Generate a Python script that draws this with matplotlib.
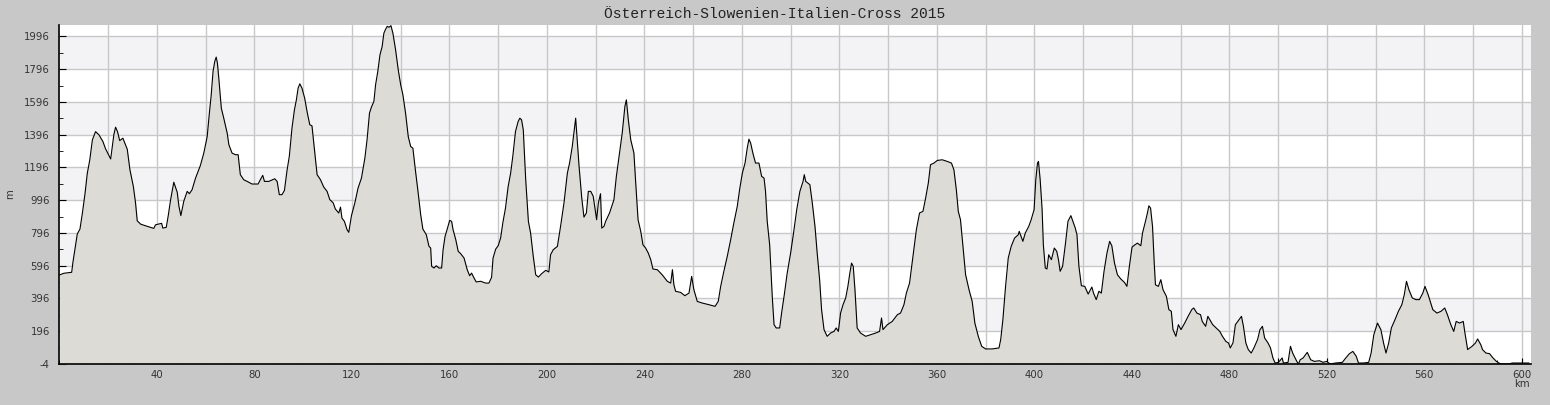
import numpy as np
import matplotlib
matplotlib.use("Agg")
import matplotlib.pyplot as plt
from matplotlib.ticker import MultipleLocator, FixedLocator

plt.rcParams["axes.unicode_minus"] = False

# distance (km) and elevation (m)
km_a = [0, 1.8, 5.0, 5.5, 7.3, 8.4, 9.4, 10.5, 11.4, 12.4, 13.5, 14.8, 16.2, 17.8, 18.9,
        21.0, 22.3, 23.0, 23.8, 24.7, 26.0, 27.8, 28.9, 30.3, 31.2, 31.9, 33.3, 35.3, 38.7,
        39.4, 41.9, 42.4, 43.8, 44.6, 45.6, 46.9, 48.3, 49.0, 49.8, 51.0, 52.4, 53.3, 54.4,
        55.8, 57.8, 59.2, 60.6, 61.5, 62.2, 63.0, 63.7, 64.3, 64.8, 65.3, 66.4, 67.4, 68.8,
        69.5, 70.8, 72.2, 73.3, 74.2, 75.6, 77.0, 79.0, 81.5, 82.4, 83.4, 84.1, 85.9, 88.3,
        89.3, 90.2, 91.3, 92.3, 93.4, 94.3, 95.4, 96.4, 97.2, 97.9, 98.6, 99.5, 100.6, 101.7,
        102.7, 103.6, 104.7, 105.7, 107.1, 108.4, 109.8, 110.9, 112.3, 113.2, 114.6, 115.3,
        115.9, 116.9, 118.0, 118.7, 119.8, 121.2, 122.5, 123.9, 125.3, 126.2, 127.2, 128.0,
        129.0, 129.7, 130.6, 131.5, 132.4, 133.1, 133.8, 134.5, 135.2, 136.0, 136.8, 137.9,
        139.0, 140.0, 140.9, 142.0, 143.1, 144.1, 145.0, 146.1, 147.1, 148.2, 149.1, 150.5,
        151.6, 152.3, 152.7, 153.7, 154.6, 155.7, 156.8, 157.4, 158.2, 159.1, 160.1, 160.9,
        161.5, 162.6, 163.6, 164.6, 166.0, 167.3, 168.3, 169.1, 170.1, 171.0, 172.8, 174.9,
        176.2, 177.3, 177.9, 179.0, 180.0, 181.0, 181.9, 183.0, 184.1, 185.1, 186.0, 187.1,
        188.2]
m_a = [540, 550, 556, 616, 790, 820, 918, 1040, 1160, 1240, 1365, 1415, 1395, 1355, 1310,
       1248, 1396, 1442, 1415, 1360, 1375, 1308, 1182, 1080, 980, 870, 850, 840, 824,
       846, 855, 826, 830, 900, 1000, 1106, 1045, 960, 902, 990, 1050, 1036, 1060,
       1130, 1208, 1283, 1385, 1528, 1630, 1782, 1843, 1870, 1833, 1752, 1558, 1497, 1406,
       1335, 1284, 1274, 1274, 1152, 1121, 1111, 1095, 1095, 1121, 1148, 1111, 1111, 1127,
       1111, 1030, 1030, 1056, 1182, 1264, 1437, 1548, 1609, 1680, 1707, 1680, 1619, 1528,
       1457, 1450, 1294, 1152, 1121, 1077, 1050, 1000, 980, 942, 918, 954,
       887, 867, 816, 800, 902, 980, 1070, 1131, 1253, 1365, 1528, 1565,
       1599, 1701, 1782, 1884, 1935, 2016, 2040, 2058, 2052, 2062, 2016, 1915,
       1792, 1701, 1640, 1528, 1385, 1324, 1314, 1172, 1050, 908, 820, 786,
       715, 704, 592, 582, 596, 582, 582, 694, 775, 820, 873, 867,
       816, 755, 684, 670, 643, 572, 535, 551, 521, 497, 501, 490,
       490, 525, 643, 698, 718, 765, 857, 948, 1080, 1160, 1264, 1415,
       1477]

km_b = [188.9, 189.6, 190.3, 191.3, 192.4, 193.3, 194.4, 195.4, 196.5, 197.8, 199.5, 200.8,
        201.5, 202.6, 204.3, 205.6, 207.0, 208.4, 209.3, 210.4, 211.1, 211.8, 212.2, 213.2,
        214.3, 215.2, 216.2, 217.0, 218.0, 219.0, 220.0, 220.4, 221.1, 222.0, 222.5, 223.4,
        224.1, 225.7, 227.5, 228.5, 229.6, 230.9, 232.0, 232.6, 233.4, 234.4, 235.7, 236.4,
        237.4, 238.5, 239.4, 240.5, 241.6, 242.6, 243.5, 245.3, 247.3, 249.4, 250.8, 251.5,
        252.1, 252.8, 254.9, 256.6, 258.3, 259.4, 260.3, 261.7, 263.8, 266.5, 269.0, 270.3,
        271.3, 272.6, 274.0, 275.4, 276.7, 278.1, 279.1, 280.2, 281.3, 282.2, 282.9, 283.6,
        284.5, 285.6, 287.0, 288.1, 289.1, 289.7, 290.4, 291.4, 292.5, 293.2, 294.1, 295.5,
        296.3, 297.4, 298.6, 300.0, 301.1, 302.5, 303.8, 305.1, 305.6, 306.2, 307.9, 308.9,
        310.0, 310.9, 311.9, 312.7, 313.7, 315.0, 316.4, 317.8, 318.7, 319.6, 320.5, 321.5,
        322.6, 323.5, 324.3, 325.0, 325.7, 326.4, 327.3, 328.7, 330.8, 332.8, 334.9, 336.5,
        337.3, 337.9, 339.7, 341.7, 343.8, 345.1, 346.5, 347.5, 348.8, 350.2, 351.6, 352.9,
        354.3, 355.4, 356.5, 357.4, 358.8, 360.2, 362.2, 364.3, 366.0, 367.0, 368.0, 368.8,
        369.7, 370.7, 371.8, 373.2, 374.5, 375.6, 377.0, 378.4, 380.0, 382.7, 385.5, 386.2,
        387.1, 388.2, 389.3]
m_b = [1497, 1487, 1426, 1121, 867, 796, 653, 541, 527, 547, 568, 558,
       663, 694, 714, 836, 979, 1162, 1223, 1324, 1410, 1497, 1415, 1202,
       1009, 893, 918, 1050, 1050, 1020, 918, 877, 979, 1036, 826, 836,
       867, 918, 999, 1142, 1264, 1406, 1569, 1609, 1487, 1365, 1284, 1111,
       877, 806, 724, 704, 673, 633, 576, 572, 541, 501, 490, 572,
       480, 440, 433, 413, 429, 531, 450, 378, 368, 358, 348, 378,
       470, 562, 653, 755, 857, 958, 1064, 1162, 1223, 1314, 1369, 1345,
       1284, 1223, 1223, 1142, 1131, 1050, 867, 724, 399, 236, 216, 216,
       307, 419, 551, 673, 785, 938, 1050, 1111, 1152, 1111, 1091, 979,
       836, 673, 511, 328, 206, 165, 185, 195, 216, 195, 307, 358,
       399, 470, 551, 612, 592, 450, 216, 185, 165, 175, 185, 195,
       277, 206, 236, 256, 297, 307, 358, 429, 490, 653, 816, 918,
       928, 1009, 1101, 1213, 1223, 1239, 1243, 1233, 1223, 1182, 1060, 928,
       877, 714, 541, 450, 378, 246, 165, 104, 88, 88, 94, 145,
       267, 470, 643]

km_c = [390.5, 391.9, 393.4, 393.8, 395.3, 396.3, 397.7, 398.7, 399.9, 400.6, 401.3, 401.7,
        402.4, 403.2, 403.7, 404.5, 405.2, 405.9, 407.0, 408.2, 409.2, 409.9, 410.6, 411.6,
        412.8, 413.8, 415.0, 415.7, 416.8, 417.5, 418.3, 419.3, 420.7, 422.1, 423.6, 424.3,
        425.4, 426.5, 427.5, 428.6, 429.8, 430.9, 431.8, 432.9, 434.1, 435.5, 437.0, 438.0,
        439.0, 440.1, 441.3, 442.3, 443.7, 444.4, 445.6, 446.4, 447.0, 447.7, 448.5, 449.2,
        449.7, 450.9, 451.9, 452.8, 454.2, 455.2, 456.2, 456.9, 458.1, 459.1, 460.2, 461.7,
        463.1, 464.6, 465.4, 466.7, 468.2, 468.9, 470.3, 471.2, 472.0, 473.2, 474.6, 476.1,
        477.2, 478.6, 479.7, 480.4, 481.5, 482.5, 484.0, 485.0, 485.8, 486.8, 487.8, 489.0,
        490.1, 491.6, 492.6, 493.6, 494.5, 495.9, 496.9, 497.9, 498.8, 500.2, 501.7, 502.2,
        504.1, 505.1, 506.0, 507.0, 507.7, 508.4, 509.1, 510.3, 512.0, 513.4, 514.9, 517.0,
        518.5, 519.9, 521.4, 523.5, 526.4, 527.8, 529.3, 530.7, 532.1, 533.0, 535.0, 537.2,
        538.2, 539.3, 540.8, 542.2, 543.3, 544.3, 545.4, 546.5, 548.0, 549.4, 550.8, 551.8,
        552.7, 553.7, 555.1, 556.6, 558.0, 559.4, 560.3, 561.6, 563.5, 565.2, 566.9, 568.4,
        569.5, 570.9, 572.1, 573.1, 574.5, 576.0, 576.7, 577.8, 579.6, 581.0, 581.9, 583.2,
        583.9, 585.3, 586.8, 588.2, 589.6, 591.1, 592.5, 594.7, 596.1, 599.7, 602.9]
m_c = [714, 765, 785, 806, 745, 796, 836, 877, 938, 1121, 1223, 1233,
       1121, 938, 724, 582, 576, 663, 633, 704, 684, 633, 562, 592,
       734, 867, 902, 873, 826, 785, 592, 474, 470, 423, 466, 429,
       389, 440, 429, 562, 673, 745, 718, 612, 541, 515, 494, 470,
       592, 710, 724, 734, 718, 796, 867, 918, 962, 948, 836, 612,
       480, 470, 511, 450, 409, 328, 318, 206, 165, 236, 206, 246,
       287, 328, 338, 307, 297, 256, 226, 287, 267, 236, 216, 195,
       165, 134, 124, 94, 124, 236, 267, 287, 226, 124, 84, 63,
       94, 145, 206, 226, 155, 124, 94, 33, 2, 6, 33, 2,
       6, 104, 63, 33, 12, -4, 22, 33, 67, 22, 12, 16,
       6, 12, -4, 2, 6, 33, 59, 73, 43, 2, 2, 6,
       63, 175, 246, 206, 124, 63, 124, 216, 267, 318, 358, 419,
       501, 450, 399, 389, 389, 429, 470, 419, 328, 307, 318, 338,
       297, 236, 195, 256, 246, 256, 185, 84, 104, 124, 149, 114,
       84, 63, 59, 33, 12, -2, -4, -4, 2, 2, 2]

title = "Österreich-Slowenien-Italien-Cross 2015"
y_ticks = list(range(-4, 2000, 200))
x_grid = list(range(20, 601, 20))
x_labels = [str(v) if v % 40 == 0 else "" for v in x_grid]

km = np.array(km_a + km_b + km_c)
elev = np.array(m_a + m_b + m_c)

bg = "#c8c8c8"
fig = plt.figure(figsize=(15.5, 4.05), dpi=100, facecolor=bg)
ax = fig.add_axes([59.5 / 1550, 41 / 405, (1531 - 59.5) / 1550, 339 / 405])
ax.set_facecolor("white")

y0, y1 = -4, 2066
ax.set_xlim(0, 603.8)
ax.set_ylim(y0, y1)

# alternating shaded bands
for lo in range(196, 1997, 400):
    ax.axhspan(lo, lo + 200, color="#f3f2f5", lw=0, zorder=0)

ax.set_yticks(y_ticks)
ax.yaxis.set_minor_locator(FixedLocator(list(range(96, 2000, 200))))
ax.set_xticks(x_grid)
ax.set_xticklabels(x_labels)
ax.xaxis.set_minor_locator(MultipleLocator(10))
ax.grid(True, which="major", color="#c8c8c8", lw=1, zorder=1)

ax.fill_between(km, elev, y0, color="#dcdbd6", lw=0, zorder=2)
ax.plot(km, elev, color="black", lw=0.8, zorder=3)

for s in ["top", "right"]:
    ax.spines[s].set_visible(False)
ax.spines["left"].set_linewidth(1.2)
ax.spines["bottom"].set_linewidth(1.2)

ax.tick_params(axis="both", which="both", direction="in", colors="black",
               labelcolor="#333333", labelsize=7.3)
ax.tick_params(axis="y", which="major", length=5, pad=7)
ax.tick_params(axis="y", which="minor", length=3)
ax.tick_params(axis="x", which="major", length=4, pad=4)
ax.tick_params(axis="x", which="minor", length=3)

ax.set_ylabel("m", fontsize=7.3, color="#333333")
ax.yaxis.set_label_coords(-44 / 1471, 0.5)
ax.text(600, -0.06, "km", transform=ax.get_xaxis_transform(), ha="center", va="center",
        fontsize=7.3, color="#333333")

fig.text(0.5, 1 - 14 / 405, title, ha="center", va="center",
         family=["Liberation Mono", "DejaVu Sans Mono"], fontsize=10.5, color="#222222")

fig.savefig("out.png", dpi=100, facecolor=bg)
